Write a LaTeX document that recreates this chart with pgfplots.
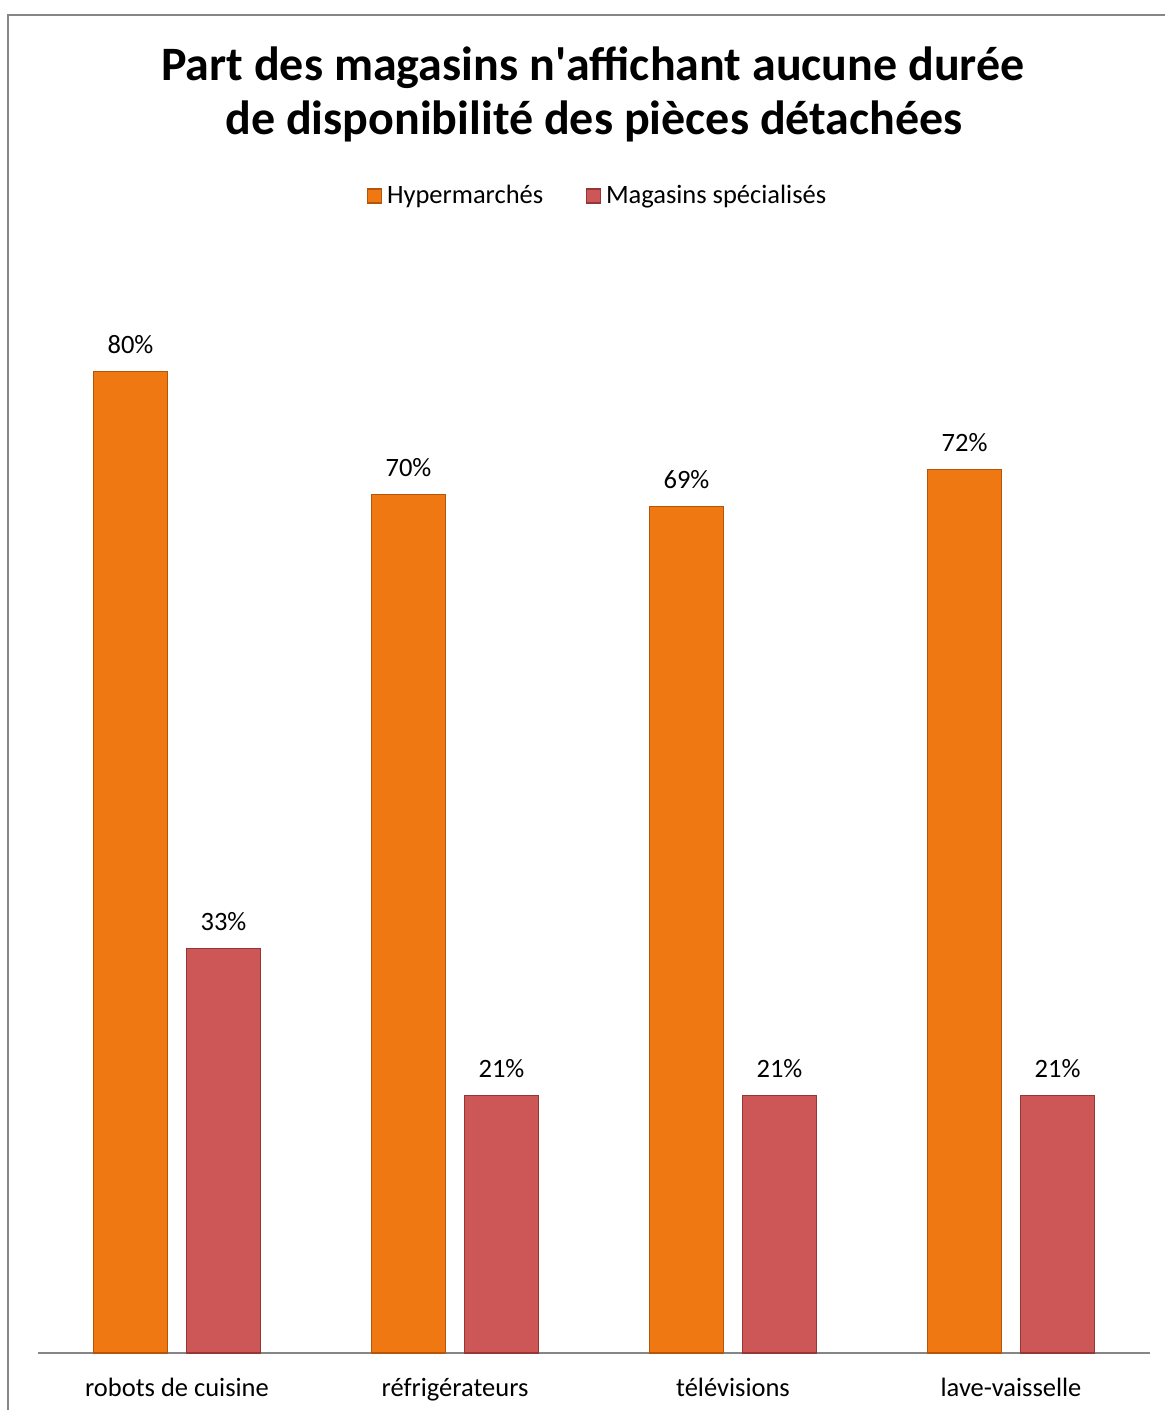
\documentclass[border=0pt]{standalone}
\usepackage{fontspec}
\setmainfont{Carlito}
\usepackage{pgfplots}
\pgfplotsset{compat=1.18}
\definecolor{orangebar}{RGB}{240,120,18}
\definecolor{orangeedge}{RGB}{180,85,10}
\definecolor{redbar}{RGB}{205,86,86}
\definecolor{rededge}{RGB}{150,55,55}
\definecolor{framegray}{RGB}{134,134,134}
\begin{document}
\begin{tikzpicture}[x=0.4pt,y=-0.4pt]
\useasboundingbox (0,0) rectangle (1164,1410);
\draw[framegray, line width=0.9pt] (8,15) rectangle (1190,1440);
\node[anchor=base, inner sep=0pt, font=\bfseries\fontsize{19.2}{23}\selectfont] at (593,81)
  {Part des magasins n\textquotesingle affichant aucune durée};
\node[anchor=base, inner sep=0pt, font=\bfseries\fontsize{19.2}{23}\selectfont] at (594,135)
  {de disponibilité des pièces détachées};
\begin{axis}[
  at={(15.2pt,-541.2pt)}, anchor=south west,
  scale only axis, width=444.8pt, height=441.6pt,
  xmin=-0.5, xmax=3.5, ymin=0, ymax=90,
  axis y line=none, axis x line=bottom,
  x axis line style={-, draw=framegray, line width=0.8pt},
  ybar=7.6pt, bar width=29.6pt,
  xtick={0,1,2,3},
  xticklabels={robots de cuisine, réfrigérateurs, télévisions, lave-vaisselle},
  major tick length=0pt,
  xticklabel style={font=\fontsize{10.6}{12.5}\selectfont, yshift=-6.5pt},
  /pgf/number format/assume math mode=true,
  nodes near coords={\pgfmathprintnumber{\pgfplotspointmeta}\%},
  nodes near coords style={font=\fontsize{10.6}{12.5}\selectfont, black, yshift=3.5pt},
  legend columns=2,
  legend style={at={(0.5045,1.048)}, anchor=center, draw=none, fill=none,
    font=\fontsize{10.6}{12.5}\selectfont,
    /tikz/every even column/.append style={column sep=15pt}},
  legend image code/.code={\draw[#1] (0pt,-2.8pt) rectangle (5.6pt,2.8pt);},
]
\addplot[fill=orangebar, draw=orangeedge, line width=0.5pt] coordinates {(0,80) (1,70) (2,69) (3,72)};
\addplot[fill=redbar, draw=rededge, line width=0.5pt] coordinates {(0,33) (1,21) (2,21) (3,21)};
\legend{Hypermarchés, Magasins spécialisés}
\end{axis}
\end{tikzpicture}
\end{document}
